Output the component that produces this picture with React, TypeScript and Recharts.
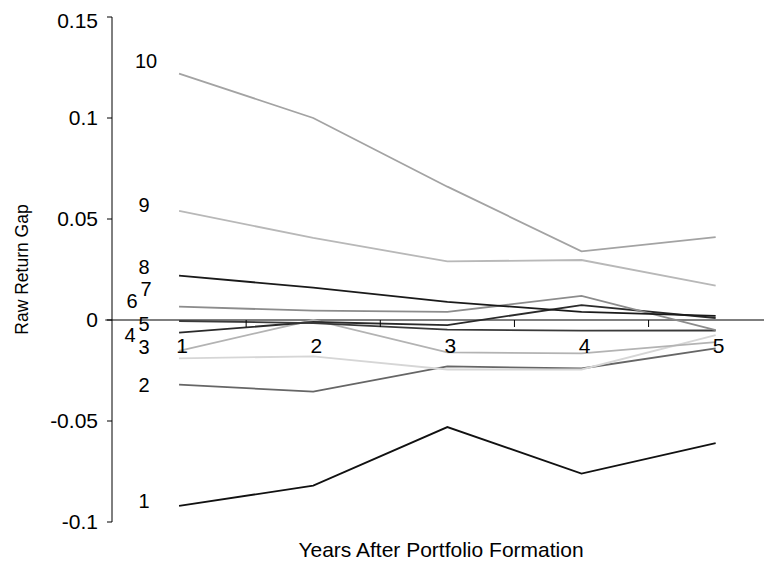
import React from 'react';
import { ComposedChart, Line, Scatter, XAxis, YAxis, ReferenceLine } from 'recharts';

// raw return gap by decile, years 1..5 after formation
const years = [1, 2, 3, 4, 5];
const decile1 = [-0.092, -0.082, -0.053, -0.076, -0.061];
const decile2 = [-0.032, -0.0355, -0.023, -0.024, -0.014];
const decile3 = [-0.019, -0.018, -0.0245, -0.0245, -0.0075];
const decile4 = [-0.0153, 0.0, -0.016, -0.0165, -0.011];
const decile5 = [-0.0063, -0.001, -0.0025, 0.0074, 0.001];
const decile6 = [-0.0005, -0.0015, -0.0048, -0.0053, -0.0052];
const decile7 = [0.0066, 0.0046, 0.004, 0.0119, -0.005];
const decile8 = [0.022, 0.016, 0.009, 0.004, 0.002];
const decile9 = [0.054, 0.0406, 0.029, 0.0297, 0.017];
const decile10 = [0.122, 0.1, 0.066, 0.034, 0.041];

const deciles = [decile1, decile2, decile3, decile4, decile5, decile6, decile7, decile8, decile9, decile10];
const decileNames = ['1', '2', '3', '4', '5', '6', '7', '8', '9', '10'];
const yTicks = [-0.1, -0.05, 0, 0.05, 0.1, 0.15];
const betweenTicks = [1.5, 2.5, 3.5, 4.5];

// per-decile stroke colour and label nudge (px)
const styles = [
  { color: '#111111', dx: -35, dy: -5 },
  { color: '#666666', dx: -35, dy: 0 },
  { color: '#d6d6d6', dx: -35, dy: -11 },
  { color: '#b3b3b3', dx: -49, dy: -16 },
  { color: '#2a2a2a', dx: -35, dy: -9 },
  { color: '#3a3a3a', dx: -47, dy: -20 },
  { color: '#8c8c8c', dx: -33, dy: -18 },
  { color: '#1a1a1a', dx: -35, dy: -9 },
  { color: '#b8b8b8', dx: -35, dy: -6 },
  { color: '#a3a3a3', dx: -33, dy: -13 },
];

const FONT = '"Liberation Sans", Arial, Helvetica, sans-serif';

const rows = years.map((year, i) => {
  const row: Record<string, number> = { year };
  deciles.forEach((d, k) => { row[`d${k + 1}`] = d[i]; });
  return row;
});
const yearMarks = years.map((year) => ({ year, zero: 0 }));
const tickMarks = betweenTicks.map((year) => ({ year, zero: 0 }));

const makeLabel = (name: string, dx: number, dy: number) => (p: any) => {
  if (p.index !== 0) return <g />;
  return (
    <text x={p.x + dx} y={p.y + dy} textAnchor="middle" dominantBaseline="central"
      fontFamily={FONT} fontSize={20} fill="#000">{name}</text>
  );
};

export default function App() {
  return (
    <div style={{ fontFamily: FONT }}>
      <ComposedChart width={764} height={557} data={rows}
        margin={{ top: 9, right: 0, bottom: 0, left: 0 }}>
        <XAxis
          dataKey="year"
          type="number"
          domain={[0.5, 5.42]}
          allowDataOverflow
          tick={false}
          tickLine={false}
          axisLine={false}
          height={43}
          label={{
            content: (props: any) => {
              const vb = props.viewBox;
              return (
                <text x={vb.x + vb.width / 2 - 1} y={vb.y + 35} textAnchor="middle"
                  fontFamily={FONT} fontSize={21} fill="#000">Years After Portfolio Formation</text>
              );
            },
          }}
        />
        <YAxis
          domain={[-0.1, 0.15]}
          ticks={yTicks}
          allowDataOverflow
          width={104}
          tickSize={5}
          tickMargin={9}
          axisLine={{ stroke: '#000' }}
          tickLine={{ stroke: '#000' }}
          tick={{ fill: '#000', fontSize: 21, fontFamily: FONT }}
          tickFormatter={(v) => String(v)}
          label={{
            content: (props: any) => {
              const vb = props.viewBox;
              const cx = 14;
              const cy = vb.y + vb.height / 2;
              return (
                <text x={cx} y={cy} transform={`rotate(-90, ${cx}, ${cy})`} textAnchor="middle"
                  dominantBaseline="central" fontFamily={FONT} fontSize={17.5} fill="#000">Raw Return Gap</text>
              );
            },
          }}
        />
        <ReferenceLine
          segment={[{ x: 0.45, y: 0 }, { x: 5.42, y: 0 }]}
          stroke="#000"
          strokeWidth={1.2}
          ifOverflow="visible"
        />
        <Scatter
          data={tickMarks}
          dataKey="zero"
          isAnimationActive={false}
          shape={(p: any) => <line x1={p.cx} x2={p.cx} y1={p.cy} y2={p.cy + 7} stroke="#000" strokeWidth={1} />}
        />
        <Scatter
          data={yearMarks}
          dataKey="zero"
          isAnimationActive={false}
          shape={(p: any) => (
            <text x={p.cx + 3} y={p.cy + 25} textAnchor="middle" dominantBaseline="central"
              fontFamily={FONT} fontSize={21} fill="#000">{p.payload.year}</text>
          )}
        />
        {deciles.map((_, k) => (
          <Line
            key={k}
            dataKey={`d${k + 1}`}
            type="linear"
            stroke={styles[k].color}
            strokeWidth={1.8}
            dot={false}
            isAnimationActive={false}
            label={makeLabel(decileNames[k], styles[k].dx, styles[k].dy)}
          />
        ))}
      </ComposedChart>
    </div>
  );
}
